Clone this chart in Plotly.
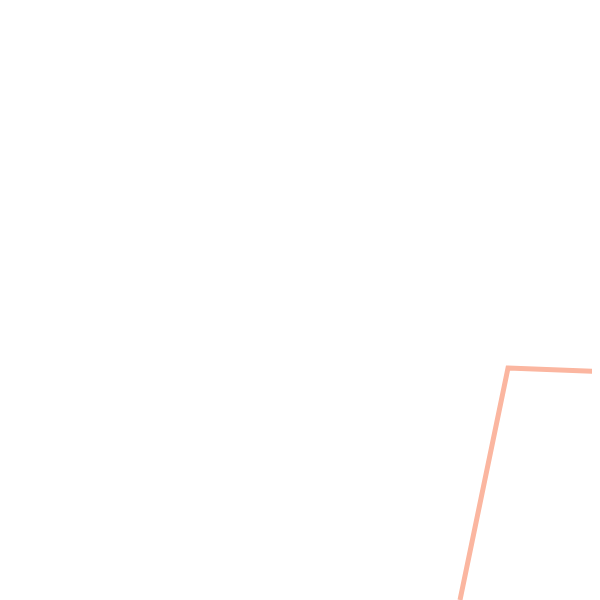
import plotly.graph_objects as go

# Data values
x_vals = [46.0, 50.8, 61.0]
y_vals = [0.0, 23.2, 22.8]

fig = go.Figure()
fig.add_trace(go.Scatter(
    x=x_vals, y=y_vals, mode="lines",
    line=dict(color="rgb(251,182,160)", width=5),
    hoverinfo="skip", showlegend=False,
))
fig.update_layout(
    width=600, height=600,
    margin=dict(l=0, r=0, t=0, b=0),
    paper_bgcolor="white", plot_bgcolor="white",
    # ranges offset to compensate the page's default 8px body margin
    xaxis=dict(range=[0.8, 60.8], visible=False, fixedrange=True),
    yaxis=dict(range=[-0.8, 59.2], visible=False, fixedrange=True),
    showlegend=False,
)
fig.write_html("out.html", config={"displayModeBar": False})
